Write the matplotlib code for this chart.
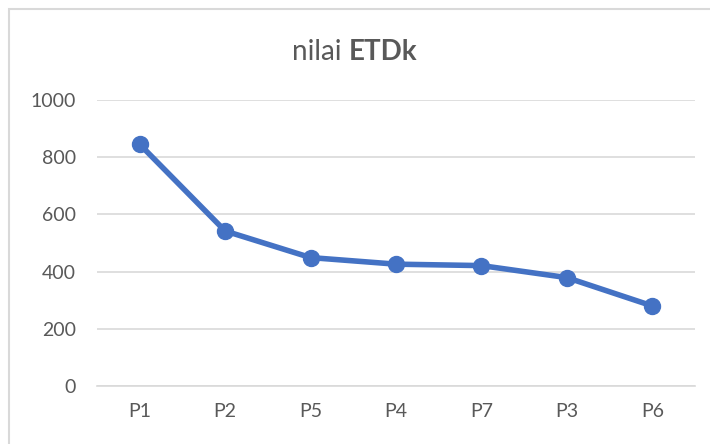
import matplotlib
matplotlib.use("Agg")
import matplotlib.pyplot as plt
from matplotlib.patches import Rectangle

# data
kategori = ["P1", "P2", "P5", "P4", "P7", "P3", "P6"]
nilai_etdk = [845, 542, 449, 426, 421, 379, 280]
y_ticks = [0, 200, 400, 600, 800, 1000]

plt.rcParams['font.family'] = ['Lato', 'DejaVu Sans']
abu = '#595959'
garis = '#d9d9d9'

W, H = 710, 444
fig = plt.figure(figsize=(W / 100, H / 100), dpi=100)
ax = fig.add_axes([97 / W, 1 - 386 / H, (695 - 97) / W, (386 - 100) / H])

x = list(range(len(kategori)))
ax.plot(x, nilai_etdk, color='#4472C4', lw=4, marker='o', ms=11.5,
        solid_capstyle='round', zorder=3)

ax.set_xlim(-0.5, len(kategori) - 0.5)
ax.set_ylim(0, 1000)
ax.set_yticks(y_ticks)
ax.set_xticks(x)
ax.set_xticklabels(kategori)
ax.grid(axis='y', color=garis, lw=1.2)
ax.set_axisbelow(True)
for s in ['top', 'right', 'left']:
    ax.spines[s].set_visible(False)
ax.spines['bottom'].set_color(garis)
ax.spines['bottom'].set_linewidth(1.2)
ax.tick_params(axis='both', length=0, labelsize=14, colors=abu)
ax.tick_params(axis='y', pad=15)
ax.tick_params(axis='x', pad=12)

# outer chart border (Excel style)
fig.patches.append(Rectangle((9 / W, -0.1), 1.2, 1 - 9 / H + 0.1,
                             transform=fig.transFigure, fill=False,
                             ec=garis, lw=1.5))

# title: "nilai " normal + "ETDk" bold, centred together
ty = 1 - 52 / H
t1 = fig.text(0, ty, "nilai ", fontsize=20, color=abu, va='center')
t2 = fig.text(0, ty, "ETDk", fontsize=20, color=abu, va='center', weight='bold')
r = fig.canvas.get_renderer()
w1 = t1.get_window_extent(r).width / W
w2 = t2.get_window_extent(r).width / W
x0 = 0.5 - (w1 + w2) / 2
t1.set_x(x0)
t2.set_x(x0 + w1)

fig.savefig('out.png', dpi=100)
